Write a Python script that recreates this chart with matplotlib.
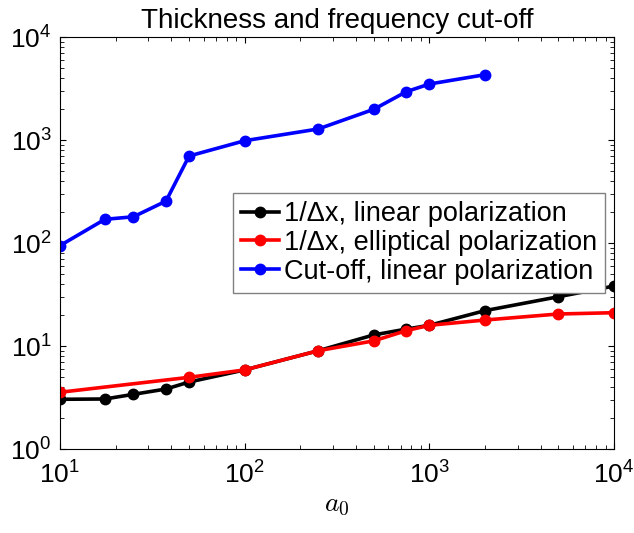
import matplotlib.pyplot as plt

# a0 values
a0_lin = [10, 17.5, 25, 37.5, 50, 100, 250, 500, 750, 1000, 2000, 5000, 10000]
a0_ell = [10, 50, 100, 250, 500, 750, 1000, 2000, 5000, 10000]
a0_cut = [10, 17.5, 25, 37.5, 50, 100, 250, 500, 750, 1000, 2000]

# 1/dx for linear polarization
inv_dx_lin = [3.06, 3.08, 3.42, 3.85, 4.5, 5.9, 9.06, 12.9, 14.7, 16.0, 22.2, 30.3, 38.5]
# 1/dx for elliptical polarization
inv_dx_ell = [3.58, 5.0, 5.9, 9.06, 11.3, 14.2, 16.0, 18.0, 20.6, 21.2]
# cut-off frequency, linear polarization
cutoff_lin = [95, 171, 181, 257, 704, 991, 1288, 2000, 2965, 3520, 4335]

plt.rcParams['font.family'] = ['Liberation Sans', 'DejaVu Sans']
plt.rcParams['mathtext.fontset'] = 'cm'

fig = plt.figure(figsize=(6.34, 5.33), dpi=100)
ax = fig.add_axes([0.0946, 0.157, 0.874, 0.773])

style = dict(linewidth=2.6, marker='o', markersize=7.5)
ax.plot(a0_lin, inv_dx_lin, color='black', label='1/Δx, linear polarization', **style)
ax.plot(a0_ell, inv_dx_ell, color='red', label='1/Δx, elliptical polarization', **style)
ax.plot(a0_cut, cutoff_lin, color='blue', label='Cut-off, linear polarization', **style)

ax.set_xscale('log')
ax.set_yscale('log')
ax.set_xlim(10, 1e4)
ax.set_ylim(1, 1e4)

ax.tick_params(which='both', direction='in', top=True, right=True, labelsize=19)
ax.tick_params(which='major', length=4.5)
ax.tick_params(which='minor', length=3)
ax.tick_params(axis='x', pad=9)
ax.tick_params(axis='y', pad=6)

ax.set_title('Thickness and frequency cut-off', fontsize=20, pad=7)
ax.set_xlabel('$a_0$', fontsize=20, labelpad=2)

ax.legend(loc='upper right', bbox_to_anchor=(0.984, 0.622), fontsize=19.5,
          fancybox=False, edgecolor='gray', framealpha=1, handlelength=1.4,
          handletextpad=0.2, borderpad=0.3, labelspacing=0.1, borderaxespad=0)

fig.savefig('out.png', dpi=100)
